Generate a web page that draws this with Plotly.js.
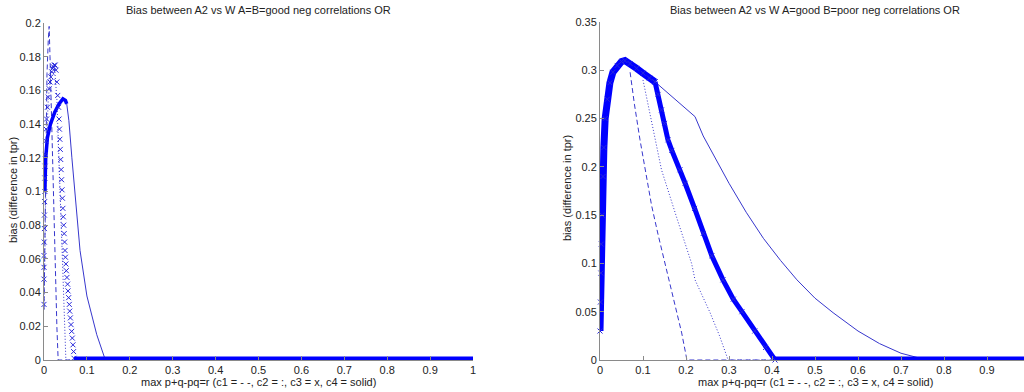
<!DOCTYPE html>
<html>
<head>
<meta charset="utf-8">
<script src="https://cdn.plot.ly/plotly-3.0.1.min.js"></script>
<style>html,body{margin:0;padding:0;background:#fff;}#chart{width:1024px;height:392px;}</style>
</head>
<body>
<div id="chart"></div>
<script>
// ---------- Data ----------
const titleLeft = "Bias between A2 vs W A=B=good neg correlations OR";
const titleRight = "Bias between A2 vs W A=good B=poor neg correlations OR";
const xLabel = "max p+q-pq=r (c1 = - -, c2 = :, c3 = x, c4 = solid)";
const yLabel = "bias (difference in tpr)";

const xTickVals = [0,0.1,0.2,0.3,0.4,0.5,0.6,0.7,0.8,0.9,1];
const xTickText = ["0","0.1","0.2","0.3","0.4","0.5","0.6","0.7","0.8","0.9","1"];
const yTickValsL = [0,0.02,0.04,0.06,0.08,0.1,0.12,0.14,0.16,0.18,0.2];
const yTickTextL = ["0","0.02","0.04","0.06","0.08","0.1","0.12","0.14","0.16","0.18","0.2"];
const yTickValsR = [0,0.05,0.1,0.15,0.2,0.25,0.3,0.35];
const yTickTextR = ["0","0.05","0.1","0.15","0.2","0.25","0.3","0.35"];

// Left panel: A=B=good
const L_c1X = [0,0.002,0.004,0.007,0.010,0.012,0.014,0.017,0.021,0.026,0.030,0.033,1];
const L_c1Y = [0.03,0.08,0.13,0.17,0.19,0.198,0.18,0.15,0.10,0.055,0.02,0,0];
const L_c2X = [0,0.003,0.006,0.010,0.015,0.020,0.025,0.030,0.035,0.040,0.045,0.049,0.051,1];
const L_c2Y = [0.03,0.09,0.13,0.155,0.168,0.175,0.172,0.155,0.12,0.08,0.045,0.015,0,0];
const L_c3X = [0,0,0,0,0.0005,0.001,0.001,0.0015,0.002,0.002,0.0025,0.003,0.004,0.005,0.006,0.008,0.010,0.012,0.014,0.016,0.018,0.020,0.022,0.024,0.026,0.028,0.030,0.032,
  0.034,0.035,0.036,0.037,0.038,0.039,0.040,0.041,0.042,0.043,0.044,0.045,0.046,0.047,0.048,0.049,0.050,0.051,0.052,0.0535,0.055,0.056,0.0575,0.059,0.060,0.0615,0.063,0.0645,0.066,0.0675,0.069,0.070];
const L_c3Y = [0.033,0.048,0.055,0.062,0.07,0.078,0.086,0.094,0.10,0.108,0.115,0.122,0.13,0.137,0.143,0.150,0.156,0.161,0.165,0.168,0.171,0.173,0.174,0.175,0.175,0.172,0.165,0.157,
  0.150,0.143,0.137,0.131,0.125,0.119,0.113,0.107,0.101,0.096,0.090,0.085,0.080,0.075,0.070,0.065,0.061,0.057,0.053,0.049,0.045,0.041,0.037,0.033,0.029,0.025,0.021,0.017,0.013,0.009,0.005,0.001];
const L_c3ZeroX = [0.07,1];
const L_c3ZeroY = [0,0];
const L_c4HumpX = [0.002,0.004,0.008,0.015,0.025,0.035,0.044,0.050,0.053];
const L_c4HumpY = [0.10,0.12,0.132,0.140,0.147,0.152,0.155,0.154,0.152];
const L_c4X = [0.053,0.058,0.065,0.075,0.084,0.100,0.123,0.143,1];
const L_c4Y = [0.152,0.142,0.12,0.09,0.065,0.038,0.015,0,0];

// Right panel: A=good B=poor
const R_riseX = [0,0.001,0.002,0.003,0.005,0.007,0.009,0.012,0.017,0.023,0.030,0.040,0.050,0.058,0.070,0.085,0.100,0.115,0.128];
const R_riseY = [0.03,0.06,0.09,0.12,0.15,0.19,0.22,0.25,0.27,0.287,0.298,0.305,0.309,0.31,0.307,0.302,0.297,0.292,0.288];
const R_c1X = [0.07,0.08,0.093,0.105,0.12,0.135,0.151,0.165,0.179,0.19,0.2,0.202,1];
const R_c1Y = [0.298,0.265,0.228,0.197,0.16,0.13,0.10,0.073,0.049,0.028,0.005,0,0];
const R_c2X = [0.10,0.114,0.128,0.143,0.178,0.213,0.221,0.24,0.256,0.278,0.298,1];
const R_c2Y = [0.29,0.26,0.228,0.197,0.148,0.10,0.083,0.064,0.049,0.025,0,0];
const R_c3X = [0.128,0.135,0.143,0.15,0.158,0.167,0.186,0.198,0.22,0.24,0.26,0.286,0.31,0.33,0.36,0.385,0.407];
const R_c3Y = [0.288,0.275,0.259,0.245,0.228,0.217,0.197,0.183,0.157,0.131,0.108,0.083,0.063,0.05,0.03,0.013,0];
const R_c3ZeroX = [0.407,1];
const R_c3ZeroY = [0,0];
const R_c4X = [0.128,0.175,0.221,0.24,0.27,0.30,0.34,0.38,0.42,0.458,0.50,0.542,0.60,0.65,0.70,0.76,1];
const R_c4Y = [0.288,0.27,0.252,0.232,0.207,0.183,0.153,0.126,0.103,0.083,0.064,0.049,0.03,0.017,0.007,0,0];

// ---------- Styles ----------
const thinBlue = "rgb(55,55,205)";
const blue = "rgb(0,0,255)";
const font = {family: "Liberation Sans, Arial, sans-serif", size: 11, color: "#222"};

function line(x, y, xa, ya, dash, w, col){
  return {x, y, xaxis: xa, yaxis: ya, type: "scatter", mode: "lines",
    line: {color: col || thinBlue, width: w || 1, dash: dash || "solid"}, hoverinfo: "skip"};
}
function marks(x, y, xa, ya, withLine, lw){
  return {x, y, xaxis: xa, yaxis: ya, type: "scatter", mode: withLine ? "lines+markers" : "markers",
    line: {color: blue, width: lw || 1},
    marker: {symbol: "x-thin-open", size: 5, color: "rgb(40,40,220)", line: {color: "rgb(40,40,220)", width: 1}},
    cliponaxis: false, hoverinfo: "skip"};
}

const traces = [
  // left
  line(L_c1X, L_c1Y, "x", "y", "5px,3px"),
  line(L_c2X, L_c2Y, "x", "y", "1px,2px"),
  line(L_c4HumpX, L_c4HumpY, "x", "y", "solid", 3.5, blue),
  line(L_c4X, L_c4Y, "x", "y", "solid", 1),
  marks(L_c3X, L_c3Y, "x", "y", false),
  line(L_c3ZeroX, L_c3ZeroY, "x", "y", "solid", 7, blue),
  // right
  marks(R_riseX, R_riseY, "x2", "y2", true, 7),
  line(R_c1X, R_c1Y, "x2", "y2", "5px,3px"),
  line(R_c2X, R_c2Y, "x2", "y2", "1px,2px"),
  line(R_c4X, R_c4Y, "x2", "y2", "solid", 1),
  marks(R_c3X, R_c3Y, "x2", "y2", true, 5),
  line(R_c3ZeroX, R_c3ZeroY, "x2", "y2", "solid", 7, blue)
];

const axisCommon = {
  showline: true, linecolor: "#8a8a8a", linewidth: 1, ticks: "inside", ticklen: 4,
  tickcolor: "#8a8a8a", showgrid: false, zeroline: false, mirror: false,
  tickfont: font, fixedrange: true
};

const W = 1024, H = 392;
const layout = {
  width: W, height: H, margin: {l: 0, r: 0, t: 0, b: 0},
  paper_bgcolor: "#fff", plot_bgcolor: "#fff", showlegend: false,
  xaxis: Object.assign({}, axisCommon, {domain: [44/W, 473/W], range: [0, 1], anchor: "y",
    tickmode: "array", tickvals: xTickVals, ticktext: xTickText}),
  yaxis: Object.assign({}, axisCommon, {domain: [(H-360)/H, (H-23)/H], range: [0, 0.2], anchor: "x",
    tickmode: "array", tickvals: yTickValsL, ticktext: yTickTextL}),
  xaxis2: Object.assign({}, axisCommon, {domain: [600/W, 1], range: [0, (W-600)/430], anchor: "y2",
    tickmode: "array", tickvals: xTickVals, ticktext: xTickText}),
  yaxis2: Object.assign({}, axisCommon, {domain: [(H-360)/H, (H-22)/H], range: [0, 0.35], anchor: "x2",
    tickmode: "array", tickvals: yTickValsR, ticktext: yTickTextR}),
  annotations: [
    {text: titleLeft, xref: "paper", yref: "paper", x: 258/W, y: (H-10)/H, showarrow: false, font: font, xanchor: "center", yanchor: "middle"},
    {text: titleRight, xref: "paper", yref: "paper", x: 815/W, y: (H-10)/H, showarrow: false, font: font, xanchor: "center", yanchor: "middle"},
    {text: xLabel, xref: "paper", yref: "paper", x: 258/W, y: (H-382)/H, showarrow: false, font: font, xanchor: "center", yanchor: "middle"},
    {text: xLabel, xref: "paper", yref: "paper", x: 815/W, y: (H-382)/H, showarrow: false, font: font, xanchor: "center", yanchor: "middle"},
    {text: yLabel, xref: "paper", yref: "paper", x: 13/W, y: (H-190)/H, showarrow: false, font: font, textangle: -90, xanchor: "center", yanchor: "middle"},
    {text: yLabel, xref: "paper", yref: "paper", x: 567/W, y: (H-188)/H, showarrow: false, font: font, textangle: -90, xanchor: "center", yanchor: "middle"}
  ]
};

Plotly.newPlot("chart", traces, layout, {staticPlot: true, displayModeBar: false});
</script>
</body>
</html>
